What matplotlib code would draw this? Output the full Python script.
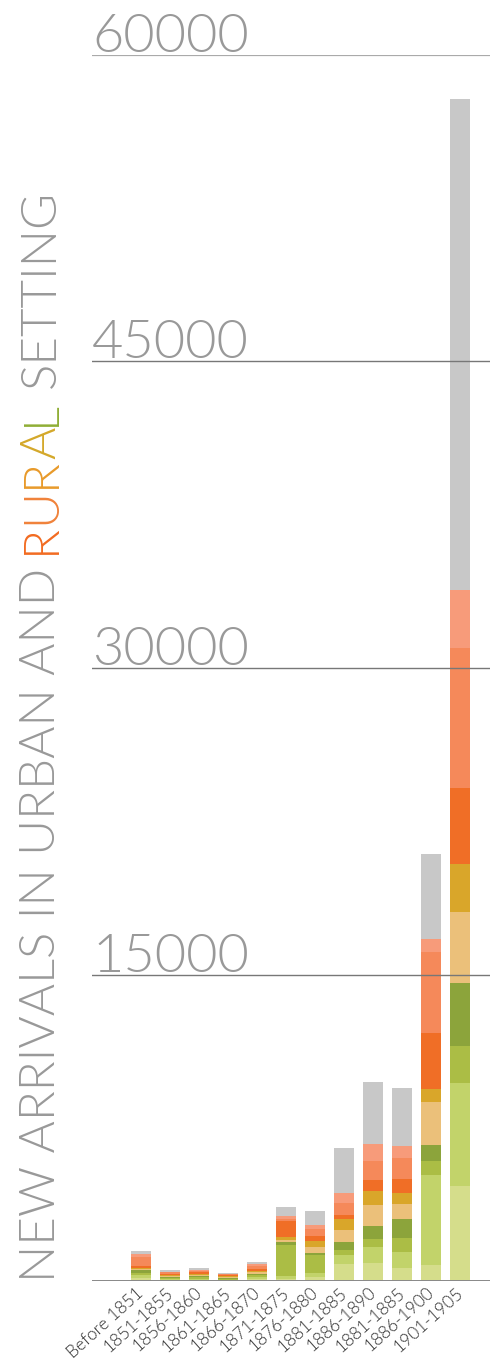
import matplotlib
matplotlib.use("Agg")
import matplotlib.pyplot as plt
import matplotlib.transforms as mtransforms
import numpy as np

# ---------------- data ----------------
categories = ["Before 1851", "1851-1855", "1856-1860", "1861-1865", "1866-1870",
              "1871-1875", "1876-1880", "1881-1885", "1886-1890", "1881-1885",
              "1886-1900", "1901-1905"]

# stacked segments, bottom to top
seg_lightest     = [130, 40, 50, 30, 80, 120, 215, 850, 860, 640, 800, 4630]
seg_light_green  = [150, 60, 70, 40, 100, 125, 195, 410, 820, 760, 4390, 5040]
seg_green        = [110, 60, 70, 40, 90, 1505, 850, 240, 360, 720, 670, 1840]
seg_dark_green   = [130, 50, 60, 40, 80, 160, 130, 410, 670, 900, 780, 3090]
seg_light_orange = [60, 40, 50, 40, 70, 80, 290, 590, 1010, 730, 2130, 3470]
seg_gold         = [80, 50, 60, 40, 70, 160, 280, 520, 700, 540, 650, 2350]
seg_orange       = [50, 60, 70, 50, 100, 790, 240, 200, 520, 680, 2710, 3700]
seg_salmon       = [470, 60, 80, 50, 130, 100, 330, 580, 930, 1030, 3960, 6880]
seg_light_salmon = [140, 40, 50, 30, 90, 140, 190, 530, 820, 610, 670, 2820]
seg_gray         = [130, 80, 90, 50, 110, 440, 710, 2200, 3030, 2850, 4140, 24030]

series = [seg_lightest, seg_light_green, seg_green, seg_dark_green, seg_light_orange,
          seg_gold, seg_orange, seg_salmon, seg_light_salmon, seg_gray]
colors = ["#d5dd8b", "#c2d36a", "#abbd45", "#8ca43b", "#ebc07a",
          "#d9a62a", "#f06e26", "#f5895a", "#f79b7a", "#c8c8c8"]

y_ticks = [15000, 30000, 45000, 60000]
y_tick_labels = ["15000", "30000", "45000", "60000"]

title_text = "NEW ARRIVALS IN URBAN AND RURAL SETTING"
rural_colors = ["#f26b21", "#f0823a", "#e89a2a", "#d4a82a", "#8fae35"]

# ---------------- figure ----------------
W, H = 490, 1369
fig = plt.figure(figsize=(W / 100, H / 100), dpi=100)
fig.patch.set_facecolor("white")
FONT = ["Lato", "DejaVu Sans"]
LIGHT = 300

ax = fig.add_axes([92 / W, 88 / H, (W - 92) / W, (1314 - 88) / H])
x = np.arange(len(categories))
bottom = np.zeros(len(categories))
for vals, c in zip(series, colors):
    ax.bar(x, vals, width=0.69, bottom=bottom, color=c, linewidth=0, zorder=2)
    bottom += np.array(vals)

ax.set_xlim(-1.7, 12.02)
ax.set_ylim(0, 60000)
for s in ax.spines.values():
    s.set_visible(False)
ax.set_yticks([])
ax.set_xticks(x)
ax.set_xticklabels(categories, rotation=42, ha="right", va="center",
                   rotation_mode="anchor", fontsize=12.5, color="#333333",
                   family=FONT, fontweight=LIGHT)
ax.tick_params(axis="x", length=0, pad=7)

# grid lines on top of bars
for t in y_ticks:
    if t == 60000:
        ax.axhline(t, color="#aaaaaa", lw=1.6, zorder=4)
    else:
        ax.axhline(t, color="#777777", lw=1.0, zorder=4)
ax.axhline(0, color="#888888", lw=1.4, zorder=4)

off = mtransforms.offset_copy(ax.transData, fig=fig, x=0, y=3, units="dots")
for t, lab in zip(y_ticks, y_tick_labels):
    ax.text(-1.7, t, lab, transform=off, ha="left", va="baseline",
            fontsize=39, color="#999999", family=FONT, fontweight=LIGHT,
            zorder=5)

# ---------------- rotated multicolour y label ----------------
renderer = fig.canvas.get_renderer()


def text_width(s, fs):
    t = fig.text(0, 0, s, fontsize=fs, family=FONT, fontweight=LIGHT)
    w = t.get_window_extent(renderer).width
    t.remove()
    return w


target_len = 1094.0
fs0 = 36.0
fs = fs0 * target_len / text_width(title_text, fs0)

idx = title_text.index("RURAL")
pieces = [(0, idx - 1, "#999999")]
for k in range(5):
    pieces.append((idx + k, idx + k + 1, rural_colors[k]))
pieces.append((idx + 6, len(title_text), "#999999"))

x_base = 55
y_start = 87
for a, b, col in pieces:
    seg = title_text[a:b]
    o = text_width(title_text[:b], fs) - text_width(seg, fs)
    fig.text(x_base / W, (y_start + o) / H, seg, rotation=90,
             rotation_mode="anchor", ha="left", va="baseline",
             fontsize=fs, color=col, family=FONT, fontweight=LIGHT)

fig.savefig("out.png", dpi=100, facecolor="white")
